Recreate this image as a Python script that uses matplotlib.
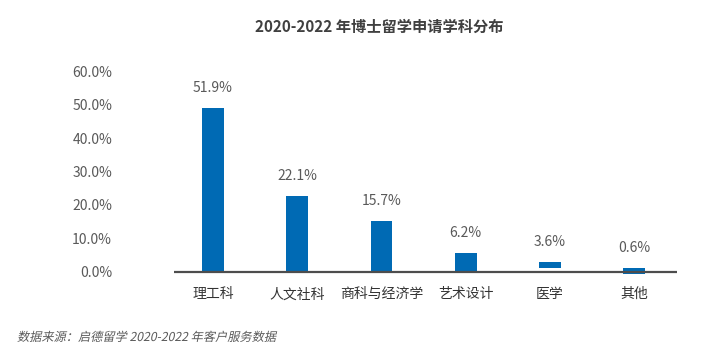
import numpy as np
import matplotlib
matplotlib.use("Agg")
import matplotlib.pyplot as plt
from matplotlib.textpath import TextPath
from matplotlib.patches import PathPatch
from matplotlib.font_manager import FontProperties
from matplotlib.transforms import Affine2D

plt.rcParams['font.family'] = ['Noto Sans CJK SC', 'DejaVu Sans']

# data
categories = ['理工科', '人文社科', '商科与经济学', '艺术设计', '医学', '其他']
value_labels = ['51.9%', '22.1%', '15.7%', '6.2%', '3.6%', '0.6%']
bar_tops = [49.1, 22.7, 15.2, 5.6, 2.85, 1.05]     # as drawn in the picture
bar_bottoms = [0, 0, 0, 0, 1.1, -0.65]
y_ticks = [0, 10, 20, 30, 40, 50, 60]

title = '2020-2022 年博士留学申请学科分布'
source = '数据来源：启德留学 2020-2022 年客户服务数据'

bar_color = '#006ab4'
text_gray = '#595959'

fig = plt.figure(figsize=(7.01, 3.51), dpi=100)
ax = fig.add_axes([0.248, 0.2074, 0.718, 0.5889])

x = np.arange(len(categories))
heights = np.array(bar_tops) - np.array(bar_bottoms)
ax.bar(x, heights, bottom=bar_bottoms, width=0.26, color=bar_color, zorder=2)

for xi, top, lab in zip(x, bar_tops, value_labels):
    ax.annotate(lab, (xi, top), xytext=(0, 20), textcoords='offset pixels',
                ha='center', va='center', fontsize=10, color=text_gray)

ax.axhline(0, color='#4d4d4d', linewidth=1.6, zorder=3)

ax.set_xlim(-0.465, 5.51)
ax.set_ylim(-2, 60)
ax.set_yticks(y_ticks)
ax.set_yticklabels([f'{v:.1f}%' for v in y_ticks], fontsize=10, color=text_gray)
ax.set_xticks(x)
ax.set_xticklabels(categories, fontsize=10, color='#333333')
ax.tick_params(axis='y', length=0, pad=44.5)
ax.tick_params(axis='x', length=0, pad=6.5)
for s in ax.spines.values():
    s.set_visible(False)

fig.text(0.541, 0.924, title, ha='center', va='center', fontsize=11,
         fontweight='bold', color='#404040')

# italic-looking footer: skewed text path in pixel coords
tp = TextPath((0, 0), source, size=12.2, prop=FontProperties(family='Noto Sans CJK SC'))
tr = Affine2D().skew_deg(12, 0).translate(17, 351 - 341)
fig.patches.append(PathPatch(tr.transform_path(tp), facecolor=text_gray,
                             edgecolor='none', transform=None, figure=fig))

fig.savefig('out.png', dpi=100)
